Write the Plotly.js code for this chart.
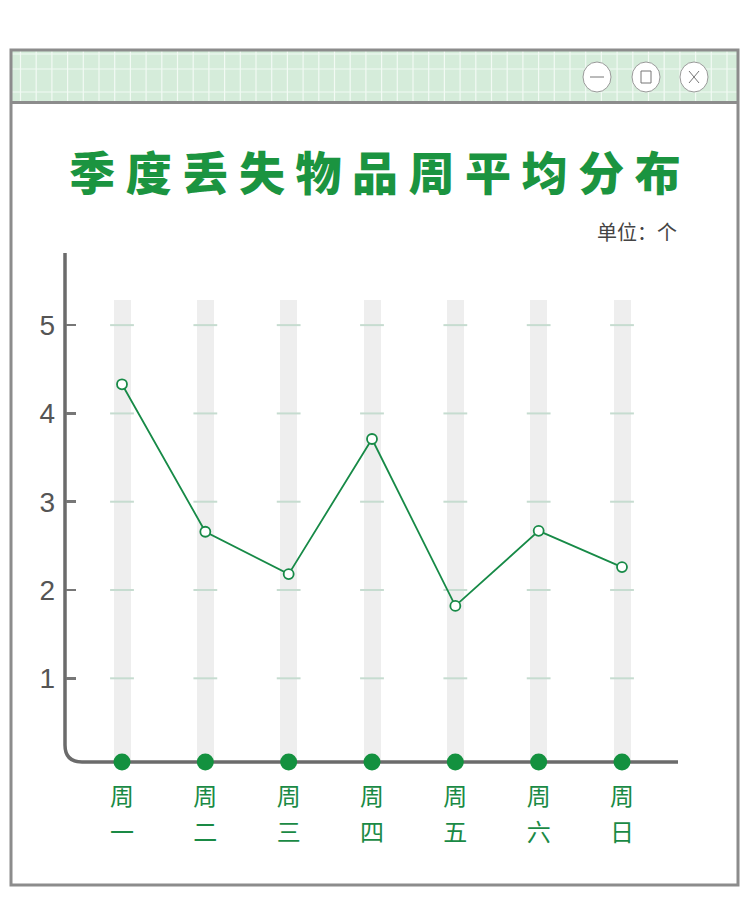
<!DOCTYPE html>
<html>
<head>
<meta charset="utf-8">
<script src="https://cdn.plot.ly/plotly-3.0.1.min.js"></script>
<style>html,body{margin:0;padding:0;background:#fff;}#chart{width:750px;height:908px;}</style>
</head>
<body>
<div id="chart"></div>
<script>
// ---- data ----
const dayPrefix = "周";
const dayNames = ["一", "二", "三", "四", "五", "六", "日"];
const avgLost = [4.33, 2.66, 2.18, 3.71, 1.82, 2.67, 2.26];
const yTicks = [1, 2, 3, 4, 5];
const titleText = "季 度 丢 失 物 品 周 平 均 分 布";
const unitText = "单位：个";
const dayIdx = dayNames.map((_, i) => i);

// ---- geometry helpers (pixel -> paper fraction) ----
const M = {l: 50, r: 60, t: 240, b: 130};
const W = 750, H = 908;
const PW = W - M.l - M.r, PH = H - M.t - M.b;
const px = x => (x - M.l) / PW;
const py = y => (H - M.b - y) / PH;

const colTop = 5.28, colBase = 0.08, axisY = 0.052;
const GREEN = "#178a47";
const XR = [-0.864, 6.816];

// gray columns
const columns = {
  type: "bar", x: dayIdx, y: dayIdx.map(() => colTop - colBase), base: colBase,
  width: 0.204, marker: {color: "#eeeeee"}, hoverinfo: "skip", showlegend: false
};
// short tick marks inside columns
const gx = [], gy = [];
dayIdx.forEach(d => yTicks.forEach(t => { gx.push(d); gy.push(t); }));
const colTicks = {
  type: "scatter", mode: "markers", x: gx, y: gy,
  marker: {symbol: "line-ew", size: 17, line: {width: 2, color: "#c6dcd0"}},
  hoverinfo: "skip", showlegend: false
};
// dots on baseline
const baseDots = {
  type: "scatter", mode: "markers", x: dayIdx, y: dayIdx.map(() => axisY),
  marker: {size: 17, color: "#13913f"}, cliponaxis: false, hoverinfo: "skip", showlegend: false
};
// data line
const line = {
  type: "scatter", mode: "lines+markers", x: dayIdx, y: avgLost,
  line: {color: GREEN, width: 1.8},
  marker: {symbol: "circle", size: 10, color: "#ffffff", line: {color: GREEN, width: 1.8}},
  cliponaxis: false, showlegend: false
};

// frame shapes
const shapes = [];
shapes.push({type: "rect", xref: "paper", yref: "paper", x0: px(11), x1: px(738), y0: py(51), y1: py(102),
  fillcolor: "#d5ecda", line: {width: 0}, layer: "below"});
for (let x = 20.5; x < 738; x += 15.7) {
  shapes.push({type: "line", xref: "paper", yref: "paper", x0: px(x), x1: px(x), y0: py(51), y1: py(102),
    line: {color: "#f2faf4", width: 1.2}, layer: "below"});
}
[54, 69, 92].forEach(y => shapes.push({type: "line", xref: "paper", yref: "paper", x0: px(11), x1: px(738), y0: py(y), y1: py(y),
  line: {color: "#f2faf4", width: 1.2}, layer: "below"}));
shapes.push({type: "line", xref: "paper", yref: "paper", x0: px(11), x1: px(738), y0: py(102.5), y1: py(102.5),
  line: {color: "#8c8c8c", width: 3}, layer: "below"});
shapes.push({type: "rect", xref: "paper", yref: "paper", x0: px(11), x1: px(738), y0: py(50), y1: py(885),
  line: {color: "#8c8c8c", width: 3}, fillcolor: "rgba(0,0,0,0)", layer: "below"});
[597, 646, 694].forEach((cx, i) => {
  shapes.push({type: "circle", xref: "paper", yref: "paper", x0: px(cx - 14), x1: px(cx + 14), y0: py(62), y1: py(92),
    fillcolor: "#ffffff", line: {color: "#9a9a9a", width: 1}, layer: "below"});
  if (i === 0) {
    shapes.push({type: "line", xref: "paper", yref: "paper", x0: px(cx - 7), x1: px(cx + 7), y0: py(77), y1: py(77),
      line: {color: "#777", width: 1}, layer: "below"});
  } else if (i === 1) {
    shapes.push({type: "rect", xref: "paper", yref: "paper", x0: px(cx - 5), x1: px(cx + 5), y0: py(71), y1: py(83),
      line: {color: "#777", width: 1}, fillcolor: "rgba(0,0,0,0)", layer: "below"});
  } else {
    shapes.push({type: "line", xref: "paper", yref: "paper", x0: px(cx - 5), x1: px(cx + 5), y0: py(71), y1: py(83),
      line: {color: "#777", width: 1}, layer: "below"});
    shapes.push({type: "line", xref: "paper", yref: "paper", x0: px(cx - 5), x1: px(cx + 5), y0: py(83), y1: py(71),
      line: {color: "#777", width: 1}, layer: "below"});
  }
});
shapes.push({type: "path", xref: "paper", yref: "paper",
  path: `M ${px(65)},${py(253)} L ${px(65)},${py(745)} Q ${px(65)},${py(762)} ${px(82)},${py(762)} L ${px(678)},${py(762)}`,
  line: {color: "#6b6b6b", width: 3.5}, layer: "below"});

const labelFont = {family: "Noto Sans CJK SC", size: 24, color: "#1a8a45"};
const layout = {
  width: W, height: H, margin: M,
  paper_bgcolor: "#ffffff", plot_bgcolor: "rgba(0,0,0,0)",
  showlegend: false, bargap: 0,
  title: {text: titleText, x: 0.5, xref: "container", xanchor: "center", y: 1 - 174 / H, yref: "container", yanchor: "middle",
    font: {family: "Noto Sans CJK SC", size: 46, weight: 900, color: "#1b9440"}},
  xaxis: {range: XR, showline: false, showgrid: false, zeroline: false, ticks: "",
    tickvals: dayIdx, ticktext: dayNames.map(() => dayPrefix), ticklabelstandoff: 2,
    tickfont: labelFont, fixedrange: true},
  xaxis2: {range: XR, overlaying: "x", anchor: "y", side: "bottom", showline: false, showgrid: false, zeroline: false, ticks: "",
    tickvals: dayIdx, ticktext: dayNames, ticklabelstandoff: 38,
    tickfont: labelFont, fixedrange: true},
  yaxis: {range: [-0.129, 5.964], anchor: "free", position: px(65), tickvals: yTicks, ticktext: yTicks.map(String),
    ticks: "inside", ticklen: 10, tickwidth: 2.5, tickcolor: "#777", showline: false, showgrid: false, zeroline: false,
    ticklabelstandoff: 10, tickfont: {family: "Liberation Sans", size: 28, color: "#555"}, fixedrange: true},
  shapes: shapes,
  annotations: [{text: unitText, xref: "paper", yref: "paper", x: px(679), y: py(232), xanchor: "right", yanchor: "middle",
    showarrow: false, font: {family: "Noto Sans CJK SC", size: 20, color: "#444"}}]
};

// invisible trace so that xaxis2 is drawn
const axis2Holder = {type: "scatter", mode: "markers", x: dayIdx, y: dayIdx.map(() => axisY), xaxis: "x2",
  marker: {opacity: 0}, hoverinfo: "skip", showlegend: false};

Plotly.newPlot("chart", [columns, colTicks, baseDots, line, axis2Holder], layout, {displayModeBar: false, staticPlot: true});
</script>
</body>
</html>
